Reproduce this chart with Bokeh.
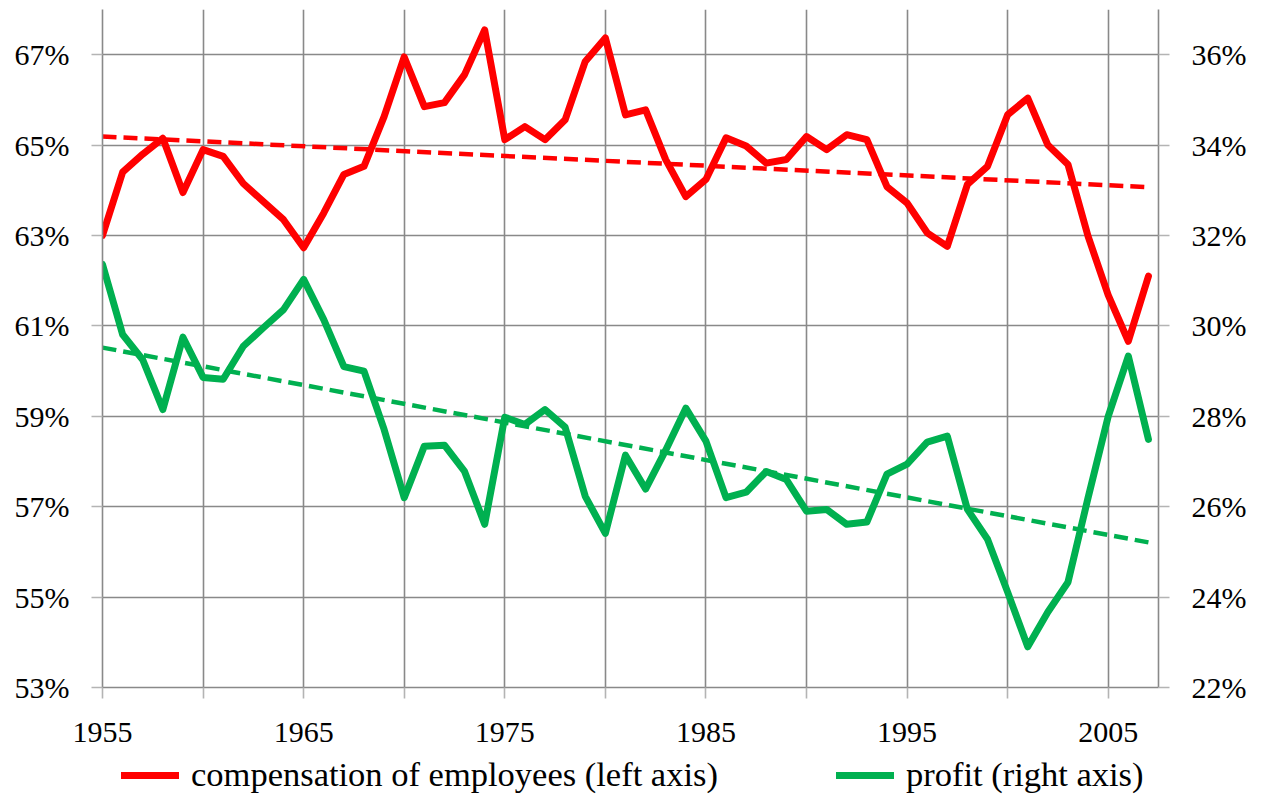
from bokeh.plotting import figure
from bokeh.layouts import column
from bokeh.models import (Range1d, LinearAxis, FixedTicker, PrintfTickFormatter,
                          Legend, LegendItem)
from bokeh.embed import file_html
from bokeh.resources import INLINE

years = list(range(1955, 2008))

compensation = [63.0, 64.4, 64.8, 65.15, 63.95, 64.9, 64.75, 64.15, 63.75, 63.35,
                62.73, 63.5, 64.35, 64.53, 65.63, 66.95, 65.85, 65.94, 66.56, 67.55,
                65.12, 65.41, 65.12, 65.56, 66.85, 67.37, 65.67, 65.78, 64.68, 63.86,
                64.24, 65.16, 64.98, 64.6, 64.68, 65.19, 64.9, 65.23, 65.12, 64.08,
                63.72, 63.06, 62.76, 64.13, 64.53, 65.67, 66.04, 65.0, 64.57, 62.98,
                61.68, 60.66, 62.1]

profit = [31.36, 29.81, 29.25, 28.15, 29.75, 28.86, 28.82, 29.55, 29.96, 30.36,
          31.03, 30.14, 29.1, 29.0, 27.71, 26.2, 27.34, 27.36, 26.78, 25.61,
          27.98, 27.82, 28.15, 27.76, 26.23, 25.41, 27.14, 26.39, 27.25, 28.18,
          27.45, 26.2, 26.32, 26.78, 26.6, 25.9, 25.94, 25.61, 25.66, 26.72,
          26.94, 27.43, 27.56, 25.94, 25.28, 24.11, 22.9, 23.67, 24.33, 26.2,
          28.0, 29.33, 27.49]

trend_years = [1955, 2007]
compensation_trend = [65.19, 64.07]
profit_trend = [29.52, 25.21]

x_ticks = list(range(1955, 2006, 5))
x_labels = {y: (str(y) if (y - 1955) % 10 == 0 else "") for y in x_ticks}
left_ticks = list(range(53, 68, 2))
right_ticks = list(range(22, 37, 2))

legend_labels = ["compensation of employees (left axis)", "profit (right axis)"]

RED = "#FF0000"
GREEN = "#00B050"
GRID = "#898989"
TICK = "#b4b4b4"
FONT = "Liberation Serif"

W = 1260
p = figure(width=W, height=754, x_range=Range1d(1955, 2007.5),
           y_range=Range1d(53, 68), output_backend="svg", toolbar_location=None,
           min_border_left=102, min_border_right=W - 1158, min_border_top=9,
           min_border_bottom=67)
p.extra_y_ranges = {"right": Range1d(22, 37)}
p.outline_line_color = None
p.background_fill_color = "white"

# grid
p.xgrid.ticker = FixedTicker(ticks=x_ticks)
p.ygrid.ticker = FixedTicker(ticks=left_ticks)
for g in (p.xgrid, p.ygrid):
    g.grid_line_color = GRID
    g.grid_line_width = 1.6

# x axis
xa = p.xaxis[0]
xa.ticker = FixedTicker(ticks=x_ticks)
xa.major_label_overrides = x_labels
# left axis
ya = p.yaxis[0]
ya.ticker = FixedTicker(ticks=left_ticks)
ya.formatter = PrintfTickFormatter(format="%d%%")
# right axis
ra = LinearAxis(y_range_name="right", ticker=FixedTicker(ticks=right_ticks),
                formatter=PrintfTickFormatter(format="%d%%"))
p.add_layout(ra, "right")

for ax in (xa, ya, ra):
    ax.axis_line_color = GRID
    ax.axis_line_width = 1.6
    ax.major_tick_out = 11
    ax.major_tick_in = 0
    ax.major_tick_line_color = TICK
    ax.major_tick_line_width = 1.6
    ax.minor_tick_line_color = None
    ax.major_label_text_font = FONT
    ax.major_label_text_font_size = "30px"
    ax.major_label_text_color = "black"
    ax.major_label_standoff = 22
xa.major_label_standoff = 24

# trend lines
p.line(trend_years, compensation_trend, line_color=RED, line_width=4.5,
       line_dash="14 7")
p.line(trend_years, profit_trend, line_color=GREEN, line_width=4.5,
       line_dash="14 7", y_range_name="right")

# series
p.line(years, compensation, line_color=RED, line_width=7,
       line_join="round", line_cap="round")
p.line(years, profit, line_color=GREEN, line_width=7,
       line_join="round", line_cap="round", y_range_name="right")

# legend strip below the chart (its frame is aligned with the chart's frame)
lf = figure(width=W, height=40, x_range=Range1d(0, 1), y_range=Range1d(0, 1),
            output_backend="svg", toolbar_location=None, x_axis_type=None,
            y_axis_type=None, min_border_left=0, min_border_right=0,
            min_border_top=0, min_border_bottom=0)
lf.outline_line_color = None
lf.xgrid.visible = False
lf.ygrid.visible = False
# legend keys: off-range placeholder lines so only the legend swatches show
k_comp = lf.line([-5, -4], [-5, -4], line_color=RED, line_width=7, line_cap="round")
k_prof = lf.line([-5, -4], [-5, -4], line_color=GREEN, line_width=7, line_cap="round")

legend = Legend(items=[
    LegendItem(label=legend_labels[0], renderers=[k_comp]),
    LegendItem(label=legend_labels[1], renderers=[k_prof]),
], orientation="horizontal", location=(19, 0), glyph_width=58, glyph_height=30,
   label_standoff=12, spacing=118, padding=0, margin=0,
   label_text_font=FONT, label_text_font_size="34.5px", label_text_color="black",
   border_line_color=None, background_fill_alpha=0)
lf.add_layout(legend, "center")

layout = column(p, lf, spacing=0)
open("out.html", "w").write(file_html(layout, INLINE))
